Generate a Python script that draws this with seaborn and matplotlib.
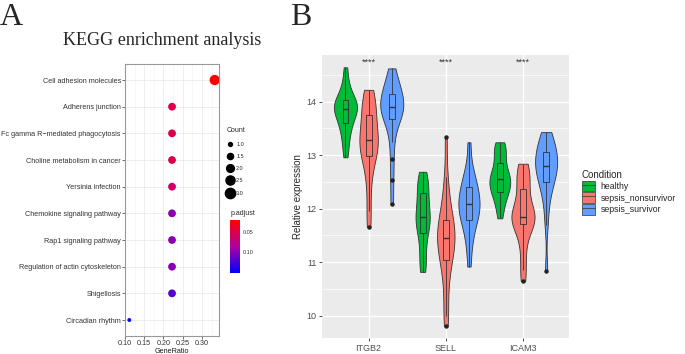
import numpy as np
import pandas as pd
import matplotlib
import matplotlib.pyplot as plt
from matplotlib.colors import LinearSegmentedColormap, Normalize
from matplotlib.lines import Line2D
from matplotlib.patches import Patch
from matplotlib.ticker import MultipleLocator
import seaborn as sns

# ---------------- Panel A data (KEGG enrichment) ----------------
pathways = ["Cell adhesion molecules", "Adherens junction", "Fc gamma R\u2212mediated phagocytosis",
            "Choline metabolism in cancer", "Yersinia infection", "Chemokine signaling pathway",
            "Rap1 signaling pathway", "Regulation of actin cytoskeleton", "Shigellosis", "Circadian rhythm"]
gene_ratio = [3 / 9, 2 / 9, 2 / 9, 2 / 9, 2 / 9, 2 / 9, 2 / 9, 2 / 9, 2 / 9, 1 / 9]
counts = [3, 2, 2, 2, 2, 2, 2, 2, 2, 1]
p_adjust = [0.0205, 0.050, 0.050, 0.052, 0.062, 0.098, 0.098, 0.100, 0.118, 0.150]
count_legend = [1.0, 1.5, 2.0, 2.5, 3.0]

# ---------------- Panel B data (expression per gene / condition) ----------------
genes = ["ITGB2", "SELL", "ICAM3"]
conditions = ["healthy", "sepsis_nonsurvivor", "sepsis_survivor"]

itgb2_healthy = [12.96, 13.15, 13.30, 13.42, 13.52, 13.60, 13.66, 13.72, 13.77, 13.82, 13.86,
                 13.89, 13.92, 13.95, 13.99, 14.03, 14.08, 14.15, 14.25, 14.40, 14.64]
itgb2_nonsurv = [11.66, 11.95, 12.35, 12.65, 12.85, 12.98, 13.05, 13.12, 13.18, 13.23, 13.28,
                 13.36, 13.45, 13.55, 13.65, 13.75, 13.85, 13.95, 14.05, 14.15, 14.22]
itgb2_surv = [12.08, 12.54, 12.92, 13.25, 13.50, 13.68, 13.73, 13.77, 13.81, 13.85, 13.89,
              13.93, 13.98, 14.03, 14.08, 14.14, 14.20, 14.28, 14.36, 14.46, 14.62]
sell_healthy = [10.82, 10.90, 11.05, 11.22, 11.40, 11.54, 11.62, 11.70, 11.76, 11.81, 11.85,
                11.92, 12.00, 12.08, 12.18, 12.29, 12.37, 12.45, 12.53, 12.61, 12.69]
sell_nonsurv = [9.81, 10.00, 10.35, 10.70, 10.90, 11.05, 11.15, 11.23, 11.31, 11.39, 11.46,
                11.52, 11.58, 11.64, 11.71, 11.79, 11.92, 12.08, 12.30, 12.60, 13.33]
sell_surv = [10.92, 11.25, 11.45, 11.60, 11.71, 11.79, 11.86, 11.92, 11.98, 12.03, 12.08,
             12.14, 12.20, 12.26, 12.33, 12.40, 12.47, 12.55, 12.66, 12.85, 13.24]
icam3_healthy = [11.82, 11.98, 12.10, 12.20, 12.27, 12.32, 12.37, 12.42, 12.46, 12.51, 12.55,
                 12.59, 12.63, 12.68, 12.75, 12.85, 12.95, 13.04, 13.12, 13.19, 13.24]
icam3_nonsurv = [10.65, 10.85, 11.15, 11.40, 11.60, 11.71, 11.75, 11.79, 11.82, 11.84, 11.85,
                 11.90, 11.98, 12.08, 12.22, 12.36, 12.48, 12.58, 12.68, 12.77, 12.84]
icam3_surv = [10.84, 11.70, 12.05, 12.25, 12.40, 12.49, 12.56, 12.63, 12.69, 12.75, 12.80,
              12.85, 12.90, 12.95, 13.00, 13.05, 13.12, 13.20, 13.28, 13.36, 13.43]
signif = ["****", "****", "****"]
signif_y = 14.74

groups = {
    ("ITGB2", "healthy"): itgb2_healthy, ("ITGB2", "sepsis_nonsurvivor"): itgb2_nonsurv,
    ("ITGB2", "sepsis_survivor"): itgb2_surv,
    ("SELL", "healthy"): sell_healthy, ("SELL", "sepsis_nonsurvivor"): sell_nonsurv,
    ("SELL", "sepsis_survivor"): sell_surv,
    ("ICAM3", "healthy"): icam3_healthy, ("ICAM3", "sepsis_nonsurvivor"): icam3_nonsurv,
    ("ICAM3", "sepsis_survivor"): icam3_surv,
}
rows = [(g, c, v) for (g, c), vals in groups.items() for v in vals]
expr = pd.DataFrame(rows, columns=["gene", "Condition", "value"])

kegg = pd.DataFrame({"Description": pathways, "GeneRatio": gene_ratio,
                     "Count": counts, "p.adjust": p_adjust})

# ---------------- style ----------------
sns.set_style("ticks")
plt.rcParams["font.family"] = ["Liberation Sans", "DejaVu Sans"]
serif = ["Liberation Serif", "DejaVu Serif"]

cond_colors = {"healthy": "#00BA38", "sepsis_nonsurvivor": "#F8766D", "sepsis_survivor": "#619CFF"}
cmap = LinearSegmentedColormap.from_list("padj", ["#FF0000", "#B0009E", "#0000FF"])
norm = Normalize(min(p_adjust), max(p_adjust))
size_range = (8, 55)

fig = plt.figure(figsize=(6.85, 3.54), dpi=100)

# ---------------- Panel A ----------------
axA = fig.add_axes([0.1825, 0.0508, 0.1372, 0.7684])
sns.scatterplot(data=kegg, x="GeneRatio", y="Description", hue="p.adjust", size="Count",
                palette=cmap, hue_norm=norm, sizes=size_range, size_norm=(1, 3),
                linewidth=0, legend=False, ax=axA, zorder=3)
axA.set_xlim(0.0999, 0.3444)
axA.set_ylim(len(pathways) - 0.4, -0.6)
axA.xaxis.set_minor_locator(MultipleLocator(0.025))
axA.set_xticks([0.10, 0.15, 0.20, 0.25, 0.30])
axA.set_xticklabels(["0.10", "0.15", "0.20", "0.25", "0.30"])
axA.grid(True, which="major", color="#EBEBEB", lw=0.6)
axA.grid(True, which="minor", axis="x", color="#F2F2F2", lw=0.4)
axA.set_axisbelow(True)
for s in axA.spines.values():
    s.set_color("#999999")
    s.set_linewidth(0.8)
axA.tick_params(axis="both", which="major", labelsize=5.2, length=2, width=0.5,
                color="#333333", labelcolor="#333333", pad=1)
axA.tick_params(axis="x", which="minor", length=0)
axA.set_xlabel("GeneRatio", fontsize=5.2, labelpad=0.5, color="#1A1A1A")
axA.set_ylabel("")

fig.text(0.2365, 0.887, "KEGG enrichment analysis", ha="center", va="center",
         fontsize=13, family=serif)
fig.text(0.0, 0.929, "A", ha="left", va="baseline", fontsize=23, family=serif)
fig.text(0.4234, 0.929, "B", ha="left", va="baseline", fontsize=23, family=serif)

# size legend
lo, hi = size_range
size_handles = [Line2D([], [], ls="none", marker="o", color="black",
                       markersize=np.sqrt(lo + (v - 1) / 2 * (hi - lo))) for v in count_legend]
fig.legend(size_handles, [f"{v:.1f}" for v in count_legend], title="Count",
           loc="upper left", bbox_to_anchor=(0.331, 0.640), frameon=False,
           fontsize=4, title_fontsize=5, handlelength=1.2, handletextpad=0.5,
           labelspacing=1.3, borderpad=0, borderaxespad=0, alignment="left")

# colour bar for p.adjust
cax = fig.add_axes([0.3358, 0.2297, 0.0146, 0.1489])
sm = matplotlib.cm.ScalarMappable(norm=norm, cmap=cmap)
cb = fig.colorbar(sm, cax=cax)
cb.outline.set_visible(False)
cax.invert_yaxis()
cb.set_ticks([0.05, 0.10])
cb.set_ticklabels(["0.05", "0.10"])
cax.tick_params(length=0, labelsize=4, pad=2, labelcolor="#333333")
fig.text(0.3358, 0.388, "p.adjust", fontsize=5, ha="left", va="bottom")

# ---------------- Panel B ----------------
axB = fig.add_axes([0.4705, 0.0444, 0.3606, 0.8002])
sns.violinplot(data=expr, x="gene", y="value", hue="Condition", order=genes, hue_order=conditions,
               palette=cond_colors, width=0.9, cut=0, inner=None, density_norm="area",
               bw_method="silverman", bw_adjust=0.7, linewidth=0.6, linecolor="#333333",
               saturation=1, legend=False, ax=axB)
n_before = len(axB.patches)
sns.boxplot(data=expr, x="gene", y="value", hue="Condition", order=genes, hue_order=conditions,
            palette=cond_colors, width=0.9, gap=0.75, linewidth=0.6, linecolor="#333333",
            saturation=1, legend=False, ax=axB,
            medianprops=dict(color="#333333", linewidth=1.0),
            capprops=dict(linewidth=0),
            flierprops=dict(marker="o", markersize=2.2, markerfacecolor="#222222",
                            markeredgecolor="#222222"))
for p in axB.patches[n_before:]:
    p.set_facecolor("none")

for i, lab in enumerate(signif):
    axB.text(i, signif_y, lab, ha="center", va="center", fontsize=6.5, color="#333333")

axB.set_xlim(-0.6, 2.6)
axB.set_ylim(9.58, 14.87)
axB.set_facecolor("#EBEBEB")
axB.yaxis.set_major_locator(MultipleLocator(1))
axB.yaxis.set_minor_locator(MultipleLocator(0.5))
axB.grid(True, which="major", color="white", lw=1.0)
axB.grid(True, which="minor", axis="y", color="white", lw=0.5)
axB.set_axisbelow(True)
for s in axB.spines.values():
    s.set_visible(False)
axB.tick_params(axis="both", which="major", labelsize=6.5, length=2.5, width=0.6,
                color="#333333", labelcolor="#4D4D4D", pad=1.5)
axB.tick_params(axis="y", which="minor", length=0)
axB.set_xlabel("")
axB.set_ylabel("Relative expression", fontsize=7, labelpad=3)

cond_handles = [(Patch(facecolor=cond_colors[c], edgecolor="#333333", linewidth=0.5),
                 Line2D([], [], color="#333333", lw=0.5)) for c in conditions]
fig.legend(cond_handles, conditions, title="Condition", loc="upper left",
           bbox_to_anchor=(0.849, 0.520), frameon=False, fontsize=6.3, title_fontsize=7,
           handlelength=1.5, handleheight=1.5, handletextpad=0.7, labelspacing=0.1,
           borderpad=0, borderaxespad=0, alignment="left")

fig.savefig("out.png", dpi=100)
